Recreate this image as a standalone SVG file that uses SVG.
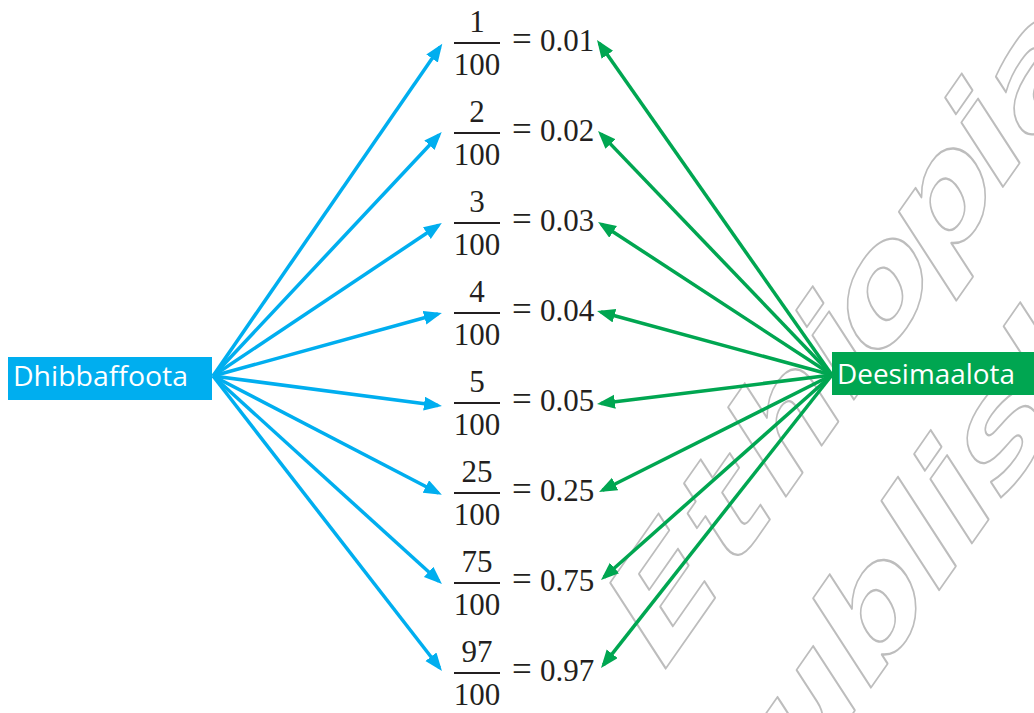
<svg xmlns="http://www.w3.org/2000/svg" width="1034" height="713" viewBox="0 0 1034 713">
<style>
.wm{font-family:"DejaVu Sans",sans-serif;font-weight:bold;font-size:130px;fill:none;stroke:#bdbdbd;stroke-width:1.7;stroke-linejoin:round}
.num{font-family:"Liberation Serif","Times New Roman",serif;font-size:31px;fill:#231f20}
.eq{font-family:"Liberation Serif","Times New Roman",serif;font-size:35px;fill:#231f20}
.bar{stroke:#231f20;stroke-width:2}
.lbl{font-family:"Open Sans","Noto Sans",sans-serif;font-size:28px;fill:#fff}
.b{stroke:#00aeef;stroke-width:3.5;fill:none;marker-end:url(#ab)}
.g{stroke:#00a651;stroke-width:3.5;fill:none;marker-end:url(#ag)}
</style>
<defs>
<marker id="ab" markerUnits="userSpaceOnUse" markerWidth="20" markerHeight="16" refX="14" refY="7" orient="auto" viewBox="0 0 20 16"><path d="M0,0 L18,7 L0,14 z" fill="#00aeef"/></marker>
<marker id="ag" markerUnits="userSpaceOnUse" markerWidth="20" markerHeight="16" refX="14" refY="7" orient="auto" viewBox="0 0 20 16"><path d="M0,0 L18,7 L0,14 z" fill="#00a651"/></marker>
</defs>
<rect width="1034" height="713" fill="#fff"/>
<g id="watermark">
<text class="wm" transform="translate(657,681) rotate(-55) skewX(-22) scale(1.28,1)" dx="0 8 6 0 -8 -8 -8 0">Ethiopia</text>
<text class="wm" transform="translate(725,896) rotate(-55) skewX(-22) scale(1.28,1)">Publishing</text>
</g>
<g id="connectors">
<line class="b" x1="213" y1="376" x2="440" y2="47"/>
<line class="b" x1="213" y1="376" x2="439" y2="135"/>
<line class="b" x1="213" y1="376" x2="438.5" y2="225.3"/>
<line class="b" x1="213" y1="376" x2="438" y2="314"/>
<line class="b" x1="213" y1="376" x2="438" y2="405.5"/>
<line class="b" x1="213" y1="376" x2="438.3" y2="493"/>
<line class="b" x1="213" y1="376" x2="439" y2="581.3"/>
<line class="b" x1="213" y1="376" x2="439.5" y2="667.8"/>
<line class="g" x1="832" y1="375" x2="599.3" y2="43.3"/>
<line class="g" x1="832" y1="375" x2="600.8" y2="133.9"/>
<line class="g" x1="832" y1="375" x2="601.4" y2="224.2"/>
<line class="g" x1="832" y1="375" x2="600.9" y2="312"/>
<line class="g" x1="832" y1="375" x2="601" y2="403.5"/>
<line class="g" x1="832" y1="375" x2="602.6" y2="490.3"/>
<line class="g" x1="832" y1="375" x2="604" y2="577.3"/>
<line class="g" x1="832" y1="375" x2="603.5" y2="664.8"/>
</g>
<g id="dhibbaffoota">
<rect x="8" y="357" width="204" height="43" fill="#00aeef"/>
<text class="lbl" x="13" y="386" textLength="175" lengthAdjust="spacingAndGlyphs">Dhibbaffoota</text>
</g>
<g id="deesimaalota">
<rect x="832" y="352" width="202" height="43" fill="#00a651"/>
<text class="lbl" x="837" y="384" textLength="178" lengthAdjust="spacingAndGlyphs">Deesimaalota</text>
</g>
<g id="row1"><text class="num" x="477" y="32" text-anchor="middle">1</text><line class="bar" x1="454" y1="43" x2="500" y2="43"/><text class="num" x="477" y="75" text-anchor="middle">100</text><text class="eq" x="512" y="51">=</text><text class="num" x="540" y="51">0.01</text></g>
<g id="row2"><text class="num" x="477" y="122" text-anchor="middle">2</text><line class="bar" x1="454" y1="133" x2="500" y2="133"/><text class="num" x="477" y="165" text-anchor="middle">100</text><text class="eq" x="512" y="141">=</text><text class="num" x="540" y="141">0.02</text></g>
<g id="row3"><text class="num" x="477" y="212" text-anchor="middle">3</text><line class="bar" x1="454" y1="223" x2="500" y2="223"/><text class="num" x="477" y="255" text-anchor="middle">100</text><text class="eq" x="512" y="231">=</text><text class="num" x="540" y="231">0.03</text></g>
<g id="row4"><text class="num" x="477" y="302" text-anchor="middle">4</text><line class="bar" x1="454" y1="313" x2="500" y2="313"/><text class="num" x="477" y="345" text-anchor="middle">100</text><text class="eq" x="512" y="321">=</text><text class="num" x="540" y="321">0.04</text></g>
<g id="row5"><text class="num" x="477" y="392" text-anchor="middle">5</text><line class="bar" x1="454" y1="403" x2="500" y2="403"/><text class="num" x="477" y="435" text-anchor="middle">100</text><text class="eq" x="512" y="411">=</text><text class="num" x="540" y="411">0.05</text></g>
<g id="row6"><text class="num" x="477" y="482" text-anchor="middle">25</text><line class="bar" x1="454" y1="493" x2="500" y2="493"/><text class="num" x="477" y="525" text-anchor="middle">100</text><text class="eq" x="512" y="501">=</text><text class="num" x="540" y="501">0.25</text></g>
<g id="row7"><text class="num" x="477" y="572" text-anchor="middle">75</text><line class="bar" x1="454" y1="583" x2="500" y2="583"/><text class="num" x="477" y="615" text-anchor="middle">100</text><text class="eq" x="512" y="591">=</text><text class="num" x="540" y="591">0.75</text></g>
<g id="row8"><text class="num" x="477" y="662" text-anchor="middle">97</text><line class="bar" x1="454" y1="673" x2="500" y2="673"/><text class="num" x="477" y="705" text-anchor="middle">100</text><text class="eq" x="512" y="681">=</text><text class="num" x="540" y="681">0.97</text></g>
</svg>
